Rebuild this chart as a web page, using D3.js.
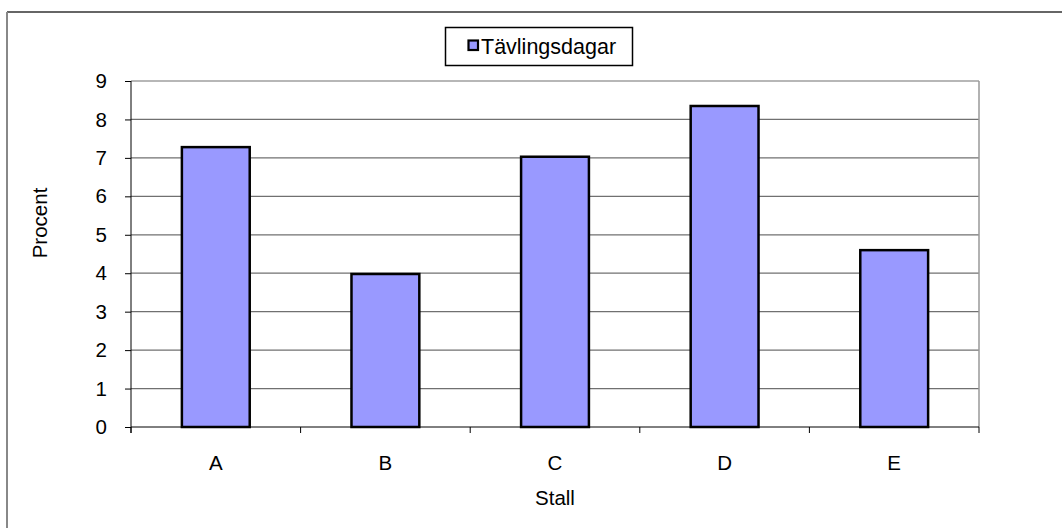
<!DOCTYPE html>
<html>
<head>
<meta charset="utf-8"/>
<script src="https://d3js.org/d3.v7.min.js"></script>
<style>
  body { margin:0; background:#fff; }
  text { font-family: "Liberation Sans", Arial, sans-serif; fill:#000; }
</style>
</head>
<body>
<svg id="chart" width="1062" height="528"></svg>
<script>
// data
let categories = ["A", "B", "C", "D", "E"];
let values = [7.28, 3.98, 7.03, 8.35, 4.6];
let yTicks = [0, 1, 2, 3, 4, 5, 6, 7, 8, 9];
let seriesName = "Tävlingsdagar";

let fs = "20.5px";
let svg = d3.select("#chart");

// outer frame (runs off the right and bottom)
svg.append("line").attr("x1", 7).attr("y1", 12).attr("x2", 1062).attr("y2", 12)
    .style("stroke", "#333").style("stroke-width", 1.5);
svg.append("line").attr("x1", 7).attr("y1", 12).attr("x2", 7).attr("y2", 528)
    .style("stroke", "#888").style("stroke-width", 2);

// plot area edges
let pLeft = 131, pRight = 979, pTop = 81, pBottom = 427;

let x = d3.scaleBand().domain(categories).range([pLeft, pRight]);
let y = d3.scaleLinear().domain([0, 9]).range([pBottom, pTop]);

// gridlines
svg.selectAll(".grid").data(yTicks.slice(1)).enter().append("line")
    .attr("x1", pLeft).attr("x2", pRight)
    .attr("y1", d => y(d)).attr("y2", d => y(d))
    .style("stroke", "#707070").style("stroke-width", 1.2);

// right border of plot area
svg.append("line").attr("x1", pRight).attr("x2", pRight).attr("y1", pTop).attr("y2", pBottom)
    .style("stroke", "#999").style("stroke-width", 1.5);

// bars
let bw = x.bandwidth() * 0.4;
svg.selectAll(".bar").data(values).enter().append("rect")
    .attr("x", (d, i) => x(categories[i]) + (x.bandwidth() - bw) / 2)
    .attr("y", d => y(d))
    .attr("width", bw)
    .attr("height", d => pBottom - y(d))
    .style("fill", "#9999ff").style("stroke", "#000").style("stroke-width", 2.5);

// y axis
let yAxis = svg.append("g").attr("transform", "translate(" + pLeft + ",0)")
    .call(d3.axisLeft(y).tickValues(yTicks).tickSize(6).tickPadding(18).tickFormat(d3.format("d")));
yAxis.select(".domain").style("stroke", "#000").attr("d", "M0," + pTop + "V" + (pBottom + 6));
yAxis.selectAll("line").style("stroke", "#000");
yAxis.selectAll("text").style("font-size", fs).style("font-family", "Liberation Sans, Arial, sans-serif");

// x axis
let xAxis = svg.append("g").attr("transform", "translate(0," + pBottom + ")")
    .call(d3.axisBottom(x).tickSize(0).tickPadding(28));
xAxis.select(".domain").style("stroke", "#000").attr("d", "M" + pLeft + ",0H" + pRight);
xAxis.selectAll("text").style("font-size", fs).style("font-family", "Liberation Sans, Arial, sans-serif");
// tick marks at band edges
let edges = categories.map(c => x(c)).concat([pRight]);
svg.selectAll(".xtick").data(edges).enter().append("line")
    .attr("x1", d => d).attr("x2", d => d)
    .attr("y1", pBottom).attr("y2", pBottom + 6)
    .style("stroke", "#000");

// axis titles
svg.append("text").attr("x", 555).attr("y", 505).attr("text-anchor", "middle")
    .style("font-size", fs).text("Stall");
svg.append("text").attr("transform", "translate(47,223) rotate(-90)").attr("text-anchor", "middle")
    .style("font-size", fs).text("Procent");

// legend
let lg = svg.append("g");
lg.append("rect").attr("x", 445.5).attr("y", 27.5).attr("width", 187).attr("height", 38)
    .style("fill", "#fff").style("stroke", "#000").style("stroke-width", 1.5);
lg.append("rect").attr("x", 468.5).attr("y", 40.5).attr("width", 9.5).attr("height", 9.5)
    .style("fill", "#9999ff").style("stroke", "#000").style("stroke-width", 2.2);
lg.append("text").attr("x", 481).attr("y", 54).style("font-size", "21.5px").text(seriesName);
</script>
</body>
</html>
